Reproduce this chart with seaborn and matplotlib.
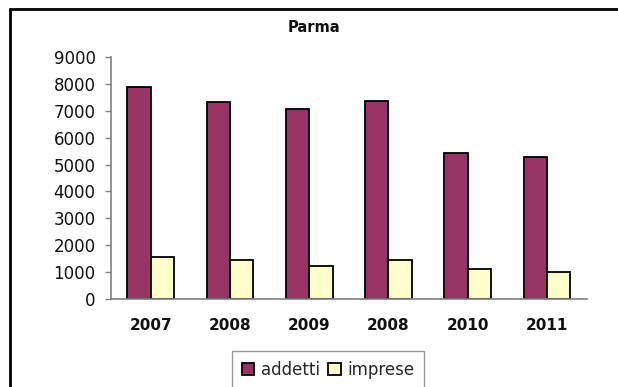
import matplotlib
matplotlib.use("Agg")
import matplotlib.pyplot as plt
from matplotlib.lines import Line2D
from matplotlib.ticker import FixedLocator
import seaborn as sns
import pandas as pd

# Data
years = ["2007", "2008", "2009", "2008", "2010", "2011"]
addetti = [7870, 7340, 7060, 7360, 5420, 5290]
imprese = [1570, 1450, 1240, 1450, 1115, 990]
series_names = ["addetti", "imprese"]
colors = ["#993366", "#FFFFCC"]

slots = list(range(len(years)))
df = pd.DataFrame({
    "slot": slots * 2,
    "valore": addetti + imprese,
    "serie": [series_names[0]] * len(years) + [series_names[1]] * len(years),
})

sns.set_theme(style="white")
plt.rcParams["font.family"] = ["DejaVu Sans"]

fig = plt.figure(figsize=(6.18, 3.87), dpi=100)
W, H = 618, 387
ax = fig.add_axes([111 / W, 1 - 299 / H, (586.7 - 111) / W, (299 - 57) / H])

sns.barplot(data=df, x="slot", y="valore", hue="serie", order=slots,
            hue_order=series_names, palette=colors, saturation=1, width=0.59,
            edgecolor="black", linewidth=1.3, ax=ax, legend=False)

ax.set_ylim(0, 9000)
ax.set_xlim(-0.5, len(years) - 0.5)
ax.set_yticks(range(0, 9001, 1000))
ax.set_yticklabels([str(v) for v in range(0, 9001, 1000)], fontsize=12, color="#111111")
ax.set_xticks(slots)
ax.set_xticklabels(years, fontsize=11, fontweight="bold", color="#111111")
ax.xaxis.set_minor_locator(FixedLocator([i - 0.5 for i in range(len(years) + 1)]))
ax.tick_params(axis="x", which="major", length=0, pad=14)
ax.tick_params(axis="x", which="minor", length=4, width=1, color="#808080", direction="out")
ax.tick_params(axis="y", length=4, width=1, color="#808080", direction="out", pad=7, left=True)
ax.set_xlabel("")
ax.set_ylabel("")
for side in ["top", "right"]:
    ax.spines[side].set_visible(False)
for side in ["left", "bottom"]:
    ax.spines[side].set_color("#808080")
    ax.spines[side].set_linewidth(1.2)

fig.text(314 / W, 1 - 27.5 / H, "Parma", ha="center", va="center",
         fontsize=10.5, fontweight="bold", color="#111111")

# Chart area border (top and left edges)
fig.add_artist(Line2D([10 / W, 1.0], [1 - 9 / H, 1 - 9 / H], transform=fig.transFigure,
                      color="black", linewidth=2))
fig.add_artist(Line2D([10 / W, 10 / W], [0.0, 1 - 9 / H], transform=fig.transFigure,
                      color="black", linewidth=2))

handles = [plt.Rectangle((0, 0), 1, 1, facecolor=c, edgecolor="black", linewidth=1.3)
           for c in colors]
leg = fig.legend(handles, series_names, loc="upper left",
                 bbox_to_anchor=(231.7 / W, 1 - 351 / H), ncol=2, fontsize=12,
                 frameon=True, fancybox=False, edgecolor="#808080",
                 handlelength=0.75, handleheight=0.75, handletextpad=0.4,
                 columnspacing=0.5, borderpad=0.6, borderaxespad=0)
leg.get_frame().set_linewidth(1)

fig.savefig("out.png", dpi=100)
